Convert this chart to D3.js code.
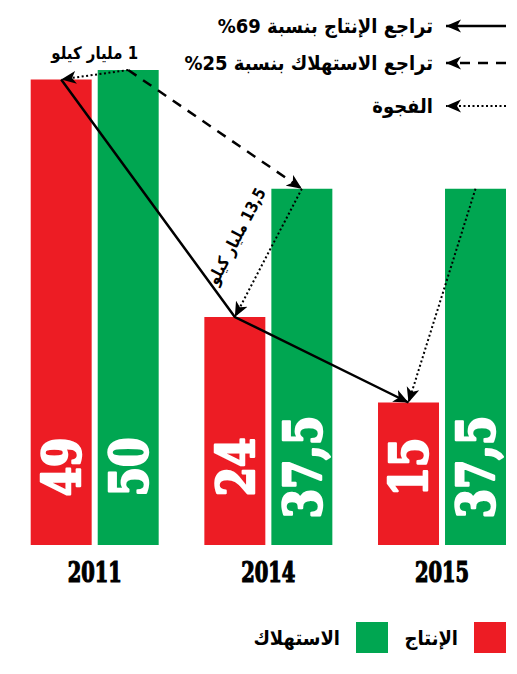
<!DOCTYPE html>
<html><head><meta charset="utf-8">
<script src="https://cdn.jsdelivr.net/npm/d3@7"></script>
<style>
html,body{margin:0;padding:0;background:#fff;}
svg{display:block;}
.ar{font-family:"DejaVu Sans",sans-serif;font-weight:bold;}
.slab{font-family:"DejaVu Serif Condensed","DejaVu Serif",serif;font-weight:bold;font-stretch:condensed;}
</style>
</head><body>
<svg id="c" width="517" height="674"></svg>
<script>
const years = ["2011", "2014", "2015"];
const production = [49, 24, 15];
const consumption = [50, 37.5, 37.5];
const seriesNames = ["الإنتاج", "الاستهلاك"];
const legendTexts = ["تراجع الإنتاج بنسبة \u202D%69\u202C", "تراجع الاستهلاك بنسبة \u202D%25\u202C", "الفجوة"];
const gapLabels = ["1 مليار كيلو", "13,5 مليار كيلو"];

const RED = "#ED1C24", GREEN = "#00A651";
const svg = d3.select("#c");

const x0 = d3.scaleBand().domain(years).range([30.7, 506]).paddingInner(0.263).paddingOuter(0);
const x1 = d3.scaleBand().domain(["prod", "cons"]).range([0, x0.bandwidth()]).paddingInner(0.09).paddingOuter(0);
const y = d3.scaleLinear().domain([0, 50]).range([545, 70]);

const data = years.map((yr, i) => ({year: yr, prod: production[i], cons: consumption[i]}));
const fmt = v => String(v).replace(".", ",");

// markers
const defs = svg.append("defs");
defs.append("marker").attr("id", "ah").attr("markerUnits", "userSpaceOnUse")
  .attr("viewBox", "-15 -7 16 14").attr("refX", 0).attr("refY", 0)
  .attr("markerWidth", 16).attr("markerHeight", 14).attr("orient", "auto")
  .append("path").attr("d", "M0,0 L-15,-6.5 L-11,0 L-15,6.5 Z").attr("fill", "#000");

// bars
const g = svg.append("g");
const groups = g.selectAll("g.grp").data(data).join("g").attr("class", "grp")
  .attr("transform", d => `translate(${x0(d.year)},0)`);
["prod", "cons"].forEach(k => {
  groups.append("rect")
    .attr("x", x1(k)).attr("width", x1.bandwidth())
    .attr("y", d => y(d[k])).attr("height", d => y(0) - y(d[k]))
    .attr("fill", k === "prod" ? RED : GREEN);
  groups.append("text").attr("class", "slab")
    .attr("transform", d => `translate(${x1(k) + x1.bandwidth() / 2},467) rotate(-90) scale(0.9,1)`)
    .attr("text-anchor", "middle").attr("dy", "0.36em")
    .attr("font-size", 52).attr("fill", "#fff")
    .attr("stroke", "#fff").attr("stroke-width", 2.4).attr("stroke-linejoin", "round")
    .text(d => fmt(d[k]));
});

// year labels
svg.selectAll("text.yr").data(years).join("text").attr("class", "slab yr")
  .attr("transform", d => `translate(${x0(d) + x0.bandwidth() / 2},582) scale(0.8,1)`)
  .attr("text-anchor", "middle").attr("font-size", 27).attr("fill", "#000")
  .attr("stroke", "#000").attr("stroke-width", 1.2)
  .text(d => d);

// annotation helpers
const px = (yr, k) => x0(yr) + x1(k) + x1.bandwidth() / 2;
const ann = svg.append("g");

// solid line: production decline
const solidPts = data.map(d => [px(d.year, "prod"), y(d.prod)]);
ann.append("path").attr("d", d3.line()(solidPts))
  .attr("fill", "none").attr("stroke", "#000").attr("stroke-width", 2.5)
  .attr("marker-end", "url(#ah)");

// dashed line: consumption decline 2011 -> 2014
ann.append("path").attr("d", d3.line()([[px("2011", "cons"), y(consumption[0])], [px("2014", "cons"), y(consumption[1])]]))
  .attr("fill", "none").attr("stroke", "#000").attr("stroke-width", 2.5)
  .attr("stroke-dasharray", "10,8").attr("marker-end", "url(#ah)");

// dotted gap lines
data.forEach(d => {
  ann.append("path").attr("d", d3.line()([[px(d.year, "cons"), y(d.cons)], [px(d.year, "prod"), y(d.prod)]]))
    .attr("fill", "none").attr("stroke", "#000").attr("stroke-width", 2)
    .attr("stroke-dasharray", "2,2.5").attr("marker-end", "url(#ah)");
});

// gap labels
svg.append("text").attr("class", "ar").attr("direction", "rtl")
  .attr("transform", `translate(${x0("2011") + x0.bandwidth() / 2},${y(50) - 11}) scale(0.88,1)`)
  .attr("text-anchor", "middle").attr("font-size", 17).text(gapLabels[0]);

{
  const a = [px("2014", "cons"), y(consumption[1])], b = [px("2014", "prod"), y(production[1])];
  const dx = a[0] - b[0], dy = a[1] - b[1], L = Math.hypot(dx, dy);
  const ux = dx / L, uy = dy / L;
  const nx = uy, ny = -ux;
  const mx = (a[0] + b[0]) / 2 + nx * 36, my = (a[1] + b[1]) / 2 + ny * 36;
  const ang = Math.atan2(dy, dx) * 180 / Math.PI;
  svg.append("text").attr("class", "ar").attr("direction", "rtl")
    .attr("transform", `translate(${mx},${my}) rotate(${ang}) scale(0.85,1)`)
    .attr("text-anchor", "middle").attr("dy", "0.35em").attr("font-size", 16.5).text(gapLabels[1]);
}

// top legend
const legY = [26, 63, 106];
const styles = [null, "10,8", "2,2.5"];
legendTexts.forEach((t, i) => {
  svg.append("line").attr("x1", 506).attr("x2", 446).attr("y1", legY[i]).attr("y2", legY[i])
    .attr("stroke", "#000").attr("stroke-width", i === 2 ? 2 : 2.5)
    .attr("stroke-dasharray", styles[i]).attr("marker-end", "url(#ah)");
  svg.append("text").attr("class", "ar").attr("direction", "rtl")
    .attr("transform", `translate(433,${legY[i] + 7}) scale(0.9,1)`)
    .attr("text-anchor", "start").attr("font-size", 20).text(t);
});

// bottom legend
const lg = [{name: seriesNames[0], color: RED, sx: 474, tx: 458}, {name: seriesNames[1], color: GREEN, sx: 356, tx: 340}];
lg.forEach(d => {
  svg.append("rect").attr("x", d.sx).attr("y", 622).attr("width", 32).attr("height", 31).attr("fill", d.color);
  svg.append("text").attr("class", "ar").attr("direction", "rtl")
    .attr("transform", `translate(${d.tx},645) scale(0.9,1)`)
    .attr("text-anchor", "start").attr("font-size", 20).text(d.name);
});
</script>
</body></html>
